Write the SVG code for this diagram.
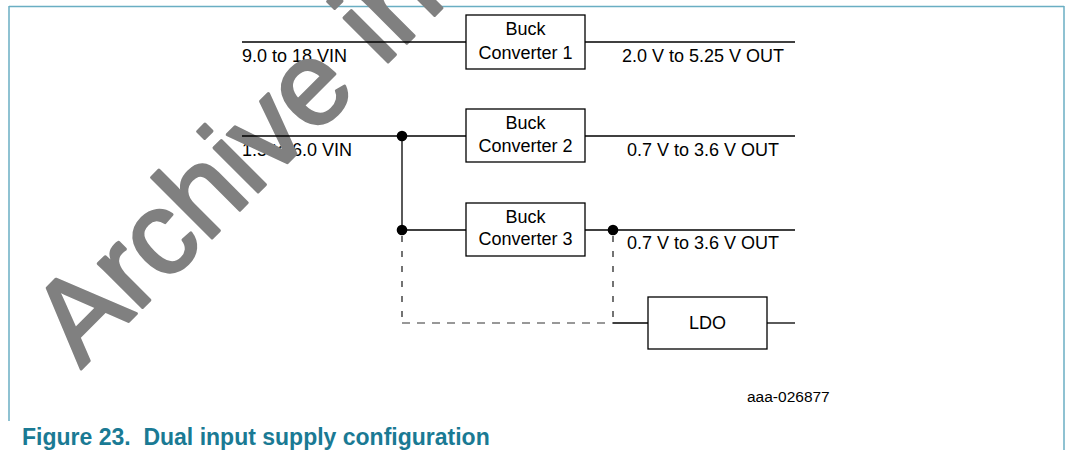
<svg xmlns="http://www.w3.org/2000/svg" width="1066" height="450" viewBox="0 0 1066 450">
<style>
.frame{stroke:#6aaec3;stroke-width:1.5;fill:none}
.box{fill:#fff;stroke:#000;stroke-width:1.3}
.w{stroke:#000;stroke-width:1.3;fill:none}
.dv{stroke:#000;stroke-width:1.1;fill:none;stroke-dasharray:6 9}
.dh{stroke:#333;stroke-width:1.1;fill:none;stroke-dasharray:8 7}
.t{font-family:"Liberation Sans",Arial,sans-serif;font-size:18px;fill:#000}
.c{text-anchor:middle}
.dot{fill:#000}
.wm{font-family:"Liberation Sans",Arial,sans-serif;font-size:118px;fill:#808080;stroke:#808080;stroke-width:3;stroke-linejoin:round}
.title{font-family:"Liberation Sans",Arial,sans-serif;font-size:23px;font-weight:bold;fill:#1a7a94;white-space:pre}
</style>
<rect width="1066" height="450" fill="#fff"/>
<g id="frame">
<line class="frame" x1="9" y1="6.5" x2="1064" y2="6.5"/>
<line class="frame" x1="9" y1="6" x2="9" y2="421"/>
<line class="frame" x1="1064" y1="6" x2="1064" y2="450"/>
</g>
<g id="labels">
<text class="t" x="242" y="62">9.0 to 18 VIN</text>
<text class="t" x="242" y="156">1.5 to 6.0 VIN</text>
<text class="t" x="622" y="62">2.0 V to 5.25 V OUT</text>
<text class="t" x="627" y="156">0.7 V to 3.6 V OUT</text>
<text class="t" x="627" y="249">0.7 V to 3.6 V OUT</text>
<text class="t" x="747" y="402" style="font-size:15.5px">aaa-026877</text>
</g>
<text id="watermark" class="wm" x="81" y="369" transform="rotate(-45 81 369)">Archive information</text>
<g id="connectors">
<line class="w" x1="242" y1="42" x2="466" y2="42"/>
<line class="w" x1="585" y1="42" x2="795" y2="42"/>
<line class="w" x1="242" y1="136" x2="466" y2="136"/>
<line class="w" x1="585" y1="136" x2="795" y2="136"/>
<line class="w" x1="402" y1="136" x2="402" y2="230"/>
<line class="w" x1="402" y1="230" x2="466" y2="230"/>
<line class="w" x1="585" y1="230" x2="795" y2="230"/>
<line class="dv" x1="402" y1="236" x2="402" y2="323"/>
<line class="dh" x1="402" y1="323" x2="613" y2="323"/>
<line class="dv" x1="613" y1="236" x2="613" y2="323"/>
<line class="w" x1="613" y1="323" x2="648" y2="323"/>
<line class="w" x1="767" y1="323" x2="795" y2="323"/>
<circle class="dot" cx="402" cy="136" r="5.3"/>
<circle class="dot" cx="402" cy="230" r="5.3"/>
<circle class="dot" cx="613" cy="230" r="5.3"/>
</g>
<g id="buck1">
<rect class="box" x="466" y="15" width="119" height="54"/>
<text class="t c" x="525.5" y="35">Buck</text>
<text class="t c" x="525.5" y="59">Converter 1</text>
</g>
<g id="buck2">
<rect class="box" x="466" y="109" width="119" height="53"/>
<text class="t c" x="525.5" y="129">Buck</text>
<text class="t c" x="525.5" y="152">Converter 2</text>
</g>
<g id="buck3">
<rect class="box" x="466" y="203" width="119" height="53"/>
<text class="t c" x="525.5" y="223">Buck</text>
<text class="t c" x="525.5" y="245">Converter 3</text>
</g>
<g id="ldo">
<rect class="box" x="648" y="297" width="119" height="52"/>
<text class="t c" x="707.5" y="329">LDO</text>
</g>
<text class="title" x="22" y="445">Figure 23.  Dual input supply configuration</text>
</svg>
